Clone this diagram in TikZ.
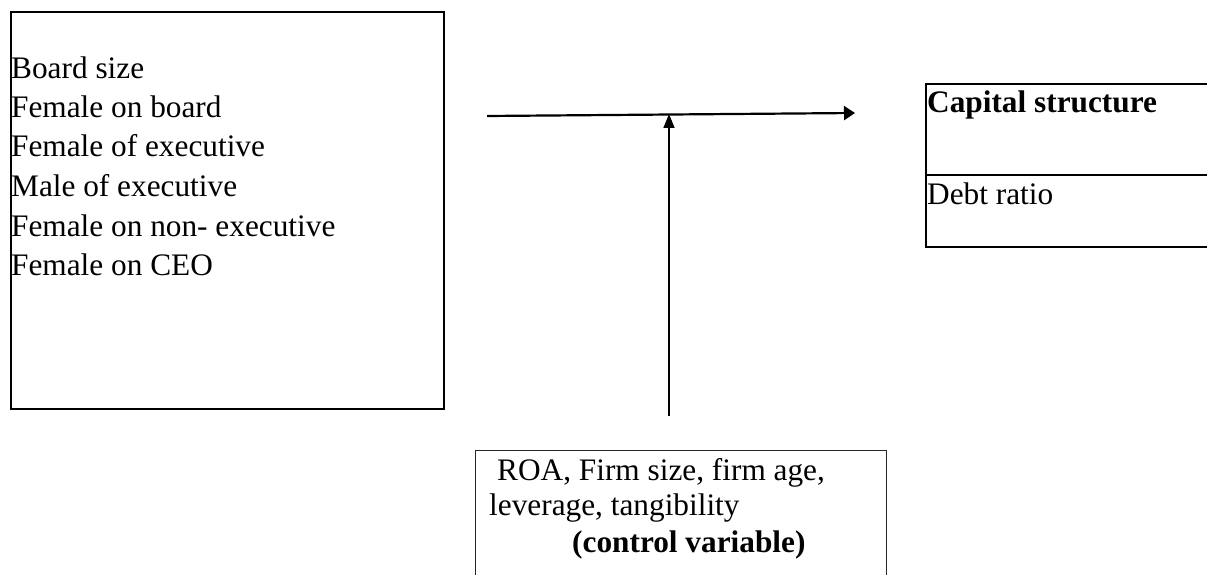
\documentclass[tikz,border=0pt]{standalone}
\usepackage{fontspec}
\setmainfont{Liberation Serif}
\usetikzlibrary{arrows.meta}
\tikzset{
  boxline/.style={draw=black, line width=2pt},
  thinbox/.style={draw=black!85, line width=1.1pt},
  txt/.style={anchor=base west, inner sep=0pt, font=\fontsize{31.3}{36}\selectfont},
  btxt/.style={anchor=base west, inner sep=0pt, font=\fontsize{31.3}{36}\selectfont\bfseries},
  mainarrow/.style={line width=2.2pt, -{Triangle[length=11pt,width=14pt]}},
  modarrow/.style={line width=1.7pt, -{Triangle[length=14pt,width=11pt]}}
}
\begin{document}
\begin{tikzpicture}[x=1pt,y=-1pt]
\useasboundingbox (0,0) rectangle (1207,575);
\begin{scope}
\clip (0,0) rectangle (1207,575);
% left box
\node[boxline, rectangle, inner sep=0pt, minimum width=433pt, minimum height=397pt, anchor=north west] (indep) at (10,11) {};
% right box
\node[boxline, rectangle, inner sep=0pt, minimum width=320pt, minimum height=163pt, anchor=north west] (dep) at (925,83) {};
\coordinate (divL) at (925,175);
\coordinate (divR) at (1245,175);
\draw[line width=2pt] (divL) -- (divR);
% bottom box
\node[thinbox, rectangle, inner sep=0pt, minimum width=411pt, minimum height=160pt, anchor=north west] (ctrl) at (475,450) {};
\end{scope}
% left texts
\node[txt] (t1) at (11,79) {Board size};
\node[txt] (t2) at (11,118) {Female on board};
\node[txt] (t3) at (11,157) {Female of executive};
\node[txt] (t4) at (11,196) {Male of executive};
\node[txt] (t5) at (11,236) {Female on non- executive};
\node[txt] (t6) at (11,275) {Female on CEO};
% right texts
\node[btxt] (cs) at (927,113) {Capital structure};
\node[txt] (dr) at (927,204) {Debt ratio};
% bottom texts
\node[txt] (c1) at (497,480) {ROA, Firm size, firm age,};
\node[txt] (c2) at (489,515) {leverage, tangibility};
\node[btxt] (c3) at (572,552) {(control variable)};
% arrows
\coordinate (hs) at (487,116);
\coordinate (he) at (855,113);
\coordinate (vs) at (669,416);
\coordinate (ve) at (669,114);
\draw[mainarrow] (hs) -- (he);
\draw[modarrow] (vs) -- (ve);
\end{tikzpicture}
\end{document}
